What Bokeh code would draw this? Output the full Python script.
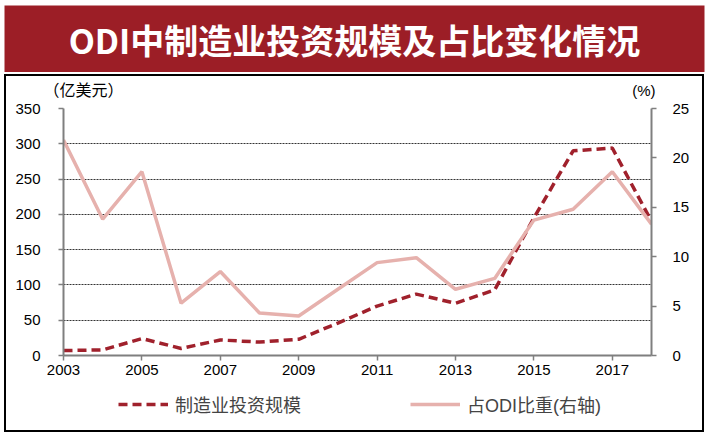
from bokeh.plotting import figure
from bokeh.models import (Range1d, LinearAxis, FixedTicker, Label, Legend, LegendItem, Spacer)
from bokeh.layouts import column, row
from bokeh.embed import file_html
from bokeh.resources import INLINE

years = list(range(2003, 2019))
mfg_invest = [7, 8, 24, 10, 22, 19, 23, 46, 70, 87, 74, 93, 195, 290, 294, 190]
odi_share = [21.8, 13.8, 18.6, 5.3, 8.5, 4.3, 4.0, 6.7, 9.4, 9.9, 6.7, 7.8, 13.7, 14.8, 18.6, 13.3]
x_ticks = [2003, 2005, 2007, 2009, 2011, 2013, 2015, 2017]
left_ticks = [0, 50, 100, 150, 200, 250, 300, 350]
right_ticks = [0, 5, 10, 15, 20, 25]

title_text = "ODI中制造业投资规模及占比变化情况"
name_mfg = "制造业投资规模"
name_share = "占ODI比重(右轴)"
unit_left = "（亿美元）"
unit_right = "(%)"

RED = "#9c1e26"
DASH = "#a0212c"
PINK = "#e6b1ad"
FONT = "Liberation Sans, 'Noto Sans CJK SC'"
INNER_W = 696


def blank_fig(w, h, **kw):
    f = figure(width=w, height=h, output_backend="svg", toolbar_location=None,
               x_range=Range1d(0, w), y_range=Range1d(0, h), x_axis_type=None, y_axis_type=None,
               outline_line_color=None, frame_align=False, **kw)
    f.grid.visible = False
    return f


# Banner
b = blank_fig(708, 72, min_border_left=4, min_border_right=4, min_border_top=5, min_border_bottom=0,
              background_fill_color=RED, border_fill_color="white")
b.x_range = Range1d(0, 1)
b.y_range = Range1d(0, 1)
b.add_layout(Label(x=0.5, y=0.5, text=title_text, text_align="center", text_baseline="middle",
                   text_color="white", text_font="Noto Sans CJK SC", text_font_size="34px",
                   text_font_style="bold"))

# Header strip with unit labels
hdr = blank_fig(INNER_W, 25, min_border=0, background_fill_color="white", border_fill_color="white")
hdr.add_layout(Label(x=37, y=11, text=unit_left, text_baseline="middle", text_font=FONT,
                     text_font_size="16px", text_color="black"))
hdr.add_layout(Label(x=649, y=11, text=unit_right, text_baseline="middle", text_align="right",
                     text_font=FONT, text_font_size="15px", text_color="black"))

# Main chart
p = figure(width=INNER_W, height=282, output_backend="svg", toolbar_location=None,
           x_range=Range1d(2003, 2018), y_range=Range1d(0, 350), frame_align=False,
           min_border_left=57, min_border_right=51, min_border_top=7, min_border_bottom=28,
           outline_line_color=None, background_fill_color="white")
p.extra_y_ranges = {"pct": Range1d(0, 25)}

p.xgrid.visible = False
p.ygrid.ticker = FixedTicker(ticks=left_ticks[1:])
p.ygrid.grid_line_color = "#333333"
p.ygrid.grid_line_dash = "2 1"
p.ygrid.grid_line_width = 1

AX = "#7f7f7f"


def style_axis(ax):
    ax.axis_line_color = AX
    ax.axis_line_width = 2
    ax.major_tick_line_color = AX
    ax.major_tick_line_width = 1.5
    ax.major_tick_out = 5
    ax.major_tick_in = 0
    ax.minor_tick_line_color = None
    ax.major_label_text_font = FONT
    ax.major_label_text_font_size = "15px"
    ax.major_label_text_color = "black"


p.xaxis.ticker = FixedTicker(ticks=x_ticks)
p.yaxis.ticker = FixedTicker(ticks=left_ticks)
style_axis(p.xaxis[0])
style_axis(p.yaxis[0])
p.xaxis.major_label_standoff = 4
p.yaxis.major_label_standoff = 18

ra = LinearAxis(y_range_name="pct", ticker=FixedTicker(ticks=right_ticks))
style_axis(ra)
ra.major_label_standoff = 16
p.add_layout(ra, "right")

p.line(years, mfg_invest, line_color=DASH, line_width=3.5, line_dash="9 5")
p.line(years, odi_share, y_range_name="pct", line_color=PINK, line_width=3.5)

# Legend strip (its renderers lie outside the strip's visible ranges; only the legend shows)
lg = blank_fig(INNER_W, 47, min_border=0, background_fill_color="white", border_fill_color="white")
l1 = lg.line(years, mfg_invest, line_color=DASH, line_width=3.5, line_dash="9 5")
l2 = lg.line(years, odi_share, line_color=PINK, line_width=3.5)
legend = Legend(items=[LegendItem(label=name_mfg, renderers=[l1]),
                       LegendItem(label=name_share, renderers=[l2])],
                orientation="horizontal", location=(112, 13), border_line_color=None,
                background_fill_alpha=0, glyph_width=50, glyph_height=20, label_height=20,
                label_standoff=7, spacing=109,
                label_text_font=FONT, label_text_font_size="18px", margin=0, padding=0)
lg.add_layout(legend, "center")

# Black border pieces
top_strip = Spacer(width=700, height=2, margin=(2, 0, 0, 4), styles={"background-color": "black"})
bot_strip = Spacer(width=700, height=2, margin=(0, 0, 0, 4), styles={"background-color": "black"})
left_strip = Spacer(width=2, height=354, margin=(0, 0, 0, 4), styles={"background-color": "black"})
right_strip = Spacer(width=2, height=354, styles={"background-color": "black"})

inner = column(hdr, p, lg, spacing=0)
mid = row(left_strip, inner, right_strip, spacing=0)
layout = column(b, top_strip, mid, bot_strip, spacing=0)
open("out.html", "w").write(file_html(layout, INLINE))
